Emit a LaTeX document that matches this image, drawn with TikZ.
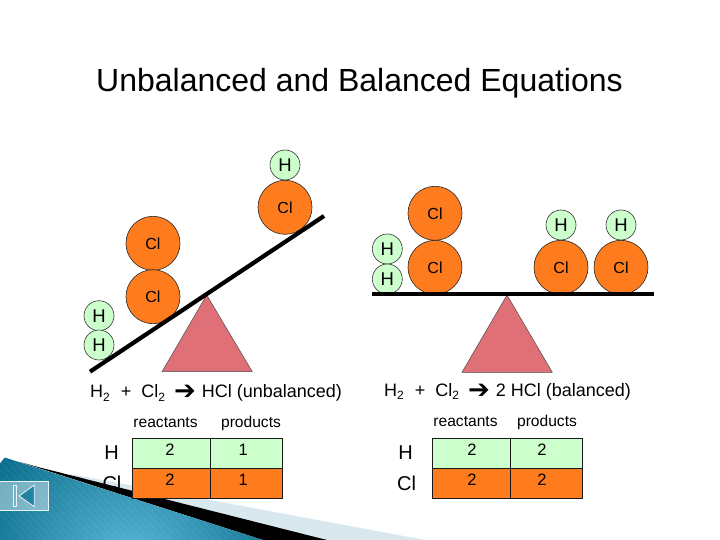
\documentclass[tikz,border=0pt]{standalone}
\usepackage{fontspec}
\setmainfont{Liberation Sans}
\newfontfamily\arrowfont{DejaVu Sans}
\newcommand{\fs}[1]{\fontsize{#1}{#1}\selectfont}
\newcommand{\subtwo}{\raisebox{-3.5pt}{\fs{12}2}}
\newcommand{\eqarrow}{{\arrowfont\fs{26}\raisebox{-2pt}{➔}}}
\definecolor{hgreen}{HTML}{CCFFCC}
\definecolor{clorange}{HTML}{FF7C1E}
\definecolor{fulcrum}{HTML}{E07078}
\definecolor{paleblue}{HTML}{D9E8EE}
\definecolor{tealdark}{HTML}{0A6E8C}
\definecolor{teallight}{HTML}{5BB8D8}
\tikzset{
  x=1pt,y=-1pt,
  hatom/.style={circle,draw=black!80,line width=0.6pt,fill=hgreen,minimum size=30pt,inner sep=0pt,font=\fs{18.5}},
  clatom/.style={circle,draw=black!85,line width=0.6pt,fill=clorange,minimum size=54pt,inner sep=0pt,font=\fs{16}},
  beam/.style={line width=4.2pt,black},
  fulcrumtri/.style={fill=fulcrum,draw=black!70,line width=0.5pt,line join=miter},
  greencell/.style={rectangle,draw=black!90,line width=0.9pt,fill=hgreen,inner sep=0pt},
  orangecell/.style={rectangle,draw=black!90,line width=0.9pt,fill=clorange,inner sep=0pt},
  cellnum/.style={font=\fs{16.5},inner sep=0pt},
  rowlabel/.style={font=\fs{20},inner sep=0pt},
  colhead/.style={font=\fs{15.6},inner sep=0pt,anchor=base},
  eqn/.style={font=\fs{18},inner sep=0pt,anchor=base west},
}
\begin{document}
\begin{tikzpicture}
\useasboundingbox (0,0) rectangle (720,540);
\fill[white] (0,0) rectangle (720,540);
% corner banner
\fill[paleblue] (70,474) -- (425,540) -- (200,540) -- cycle;
\fill[black] (38,467) -- (327,540) -- (263,540) -- (20,462) -- cycle;
\begin{scope}
  \clip (0,456) -- (263,540) -- (0,540) -- cycle;
  \shade[inner color=teallight,outer color=tealdark] (130,565) circle[radius=165];
  \foreach \k in {0,7,...,340} {
    \draw[white,opacity=0.06,line width=1pt] (\k-60,450) -- (\k+30,545);
  }
\end{scope}
% back button
\fill[white,opacity=0.42] (0,481) rectangle (48.7,510.3);
\draw[white!85!teallight,line width=0.8pt] (0,481) -- (48.7,481) -- (48.7,510.3) -- (0,510.3);
\draw[white!85!teallight,line width=0.8pt] (13.6,485) rectangle (16.6,506.7);
\draw[white!85!teallight,line width=0.8pt,fill=tealdark!70!teallight] (19,496) -- (34.3,485) -- (34.3,506.7) -- cycle;
% title
\node[font=\fs{32},inner sep=0pt] (title) at (359.5,83) {Unbalanced and Balanced Equations};
% left balance
\coordinate (lb1) at (90,371.7);
\coordinate (lb2) at (324,216);
\coordinate (lt1) at (206.7,295);
\coordinate (lt2) at (252.3,371.7);
\coordinate (lt3) at (162,371.7);
\draw[fulcrumtri] (lt1) -- (lt2) -- (lt3) -- cycle;
\node[hatom] (lh1) at (99,315.7) {H};
\node[hatom] (lh2) at (99,345) {H};
\node[clatom] (lc1) at (153,243.3) {Cl};
\node[clatom] (lc2) at (153,296.7) {Cl};
\node[clatom] (lc3) at (285,207.3) {Cl};
\node[hatom] (lh3) at (285,165) {H};
\draw[beam] (lb1) -- (lb2);
% right balance
\coordinate (rb1) at (372,293.7);
\coordinate (rb2) at (654,293.7);
\coordinate (rt1) at (507,295);
\coordinate (rt2) at (552.3,372.3);
\coordinate (rt3) at (462,372.3);
\draw[fulcrumtri] (rt1) -- (rt2) -- (rt3) -- cycle;
\node[hatom] (rh1) at (387.3,249) {H};
\node[hatom] (rh2) at (387.3,279) {H};
\node[clatom] (rc1) at (435,213.3) {Cl};
\node[clatom] (rc2) at (435,267.3) {Cl};
\node[clatom] (rc3) at (561,267.3) {Cl};
\node[clatom] (rc4) at (621,267.3) {Cl};
\node[hatom] (rh3) at (561,225) {H};
\node[hatom] (rh4) at (621,225) {H};
\draw[beam] (rb1) -- (rb2);
% equations
\node[eqn] (leq) at (90,397.5) {H\subtwo\hspace{6pt} + \hspace{5pt}Cl\subtwo\hspace{9pt}\eqarrow\hspace{6pt}HCl (unbalanced)};
\node[eqn] (req) at (384,396) {H\subtwo\hspace{6pt} + \hspace{5pt}Cl\subtwo\hspace{9pt}\eqarrow\hspace{6pt}2 HCl (balanced)};
% left table
\node[colhead] (lhr) at (165.5,427) {reactants};
\node[colhead] (lhp) at (251,427) {products};
\node[rowlabel] (lrh) at (111.5,453) {H};
\node[rowlabel] (lrc) at (112,483) {Cl};
\node[greencell,minimum width=78pt,minimum height=30pt] (la) at (171.7,453.3) {};
\node[greencell,minimum width=72pt,minimum height=30pt] (lb) at (246.7,453.3) {};
\node[orangecell,minimum width=78pt,minimum height=30pt] (lc) at (171.7,483.3) {};
\node[orangecell,minimum width=72pt,minimum height=30pt] (ld) at (246.7,483.3) {};
\node[cellnum] (lan) at (170,449.5) {2};
\node[cellnum] (lbn) at (243.3,449.5) {1};
\node[cellnum] (lcn) at (170,479.5) {2};
\node[cellnum] (ldn) at (243.3,479.5) {1};
% right table
\node[colhead] (rhr) at (465.5,426) {reactants};
\node[colhead] (rhp) at (547,426) {products};
\node[rowlabel] (rrh) at (405.5,453) {H};
\node[rowlabel] (rrc) at (406.5,483) {Cl};
\node[greencell,minimum width=78pt,minimum height=30pt] (ra) at (471.3,453.3) {};
\node[greencell,minimum width=72pt,minimum height=30pt] (rb) at (546.3,453.3) {};
\node[orangecell,minimum width=78pt,minimum height=30pt] (rc) at (471.3,483.3) {};
\node[orangecell,minimum width=72pt,minimum height=30pt] (rd) at (546.3,483.3) {};
\node[cellnum] (ran) at (472,449.5) {2};
\node[cellnum] (rbn) at (542,449.5) {2};
\node[cellnum] (rcn) at (472,479.5) {2};
\node[cellnum] (rdn) at (542,479.5) {2};
\end{tikzpicture}
\end{document}
